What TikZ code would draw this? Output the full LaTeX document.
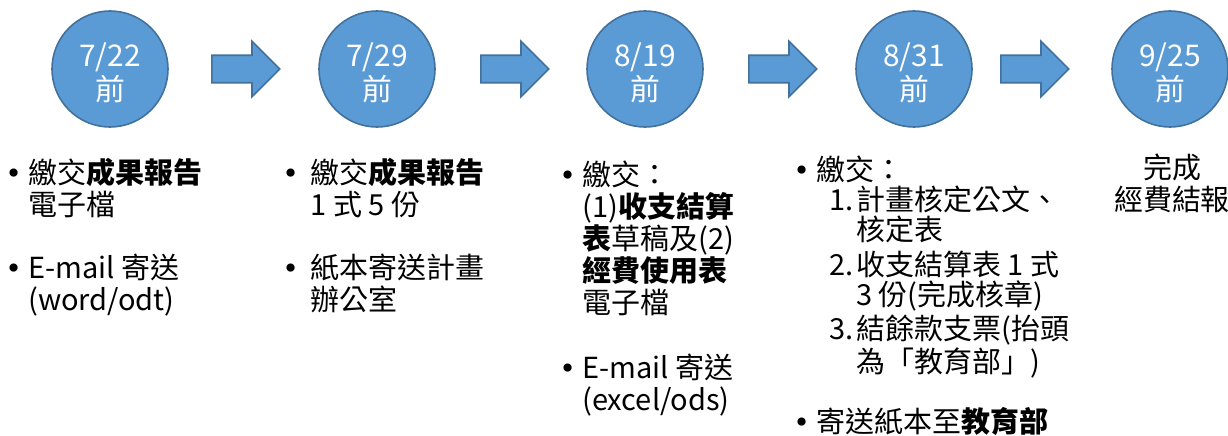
\documentclass[tikz,border=0pt]{standalone}
\usepackage{fontspec}
\setmainfont{Noto Sans CJK TC}
\newfontfamily\bulfont{DejaVu Sans}
\usetikzlibrary{shapes.arrows,calc}

\definecolor{dotblue}{HTML}{5B9BD5}
\definecolor{dotedge}{HTML}{41719C}

\newcommand{\bul}[1][0.46cm]{\makebox[#1][l]{\bulfont\fontsize{16pt}{16pt}\selectfont •}}
\newcommand{\hang}[1][0.46cm]{\hspace*{#1}}
\newcommand{\lnum}[1]{\hspace*{0.72cm}\makebox[0.54cm][l]{#1}}
\newcommand{\lhang}{\hspace*{1.26cm}}

\begin{document}
\begin{tikzpicture}[x=0.02cm, y=-0.02cm,
  datedot/.style={circle, fill=dotblue, draw=dotedge, line width=0.9pt,
    minimum size=2.32cm, inner sep=0pt},
  datetext/.style={text=white, align=center, inner sep=0pt,
    font=\fontsize{17pt}{19.4pt}\selectfont},
  stepto/.style={single arrow, fill=dotblue, draw=dotedge, line width=0.9pt,
    inner xsep=0pt, inner ysep=0.26cm, single arrow head extend=0.28cm,
    minimum height=1.36cm, anchor=tail},
  todo/.style={anchor=base west, align=left, inner sep=0pt,
    font=\fontsize{16.5pt}{18.2pt}\selectfont},
  todotight/.style={todo, font=\fontsize{16.5pt}{17.1pt}\selectfont}]
\useasboundingbox (0,0) rectangle (1228,436);

% date circles
\foreach \x/\m/\d [count=\i] in {110/7/22, 377/7/29, 645/8/19, 914/8/31, 1170/9/25}{
  \node[datedot] (d\i) at (\x,69) {};
  \node[datetext] (dt\i) at ($(d\i)+(0,4)$) {\m/\d\\前};
}

% block arrows after the circles
\foreach \x [count=\i] in {211,480,748,1000}
  \node[stepto] (a\i) at (\x,69) {};

% what to hand in
\node[todo] (t1a) at (5,215) {\bul 繳交\textbf{成果報告}\\\hang 電子檔};
\node[todo] (t1b) at (5,310) {\bul E-mail 寄送\\\hang (word/odt)};

\node[todo] (t2a) at (282,215) {\bul[0.44cm] 繳交\textbf{成果報告}\\\hang[0.44cm] 1 式 5 份};
\node[todo] (t2b) at (282,310) {\bul[0.44cm] 紙本寄送計畫\\\hang[0.44cm] 辦公室};

\node[todo] (t3a) at (559,313) {\bul 繳交：\\\hang (1)\textbf{收支結算}\\\hang \textbf{表}草稿及(2)\\\hang \textbf{經費使用表}\\\hang 電子檔};
\node[todo] (t3b) at (559,410) {\bul E-mail 寄送\\\hang (excel/ods)};

\node[todotight] (t4a) at (793,372) {\bul 繳交：\\
  \lnum{1.}計畫核定公文、\\\lhang 核定表\\[0.1cm]
  \lnum{2.}收支結算表 1 式\\\lhang 3 份(完成核章)\\[0.04cm]
  \lnum{3.}結餘款支票(抬頭\\\lhang 為「教育部」)};
\node[todo] (t4b) at (793,432) {\bul 寄送紙本至\textbf{教育部}};

\node[todo, anchor=base, align=center] (t5) at (1172,210) {完成\\經費結報};
\end{tikzpicture}
\end{document}
